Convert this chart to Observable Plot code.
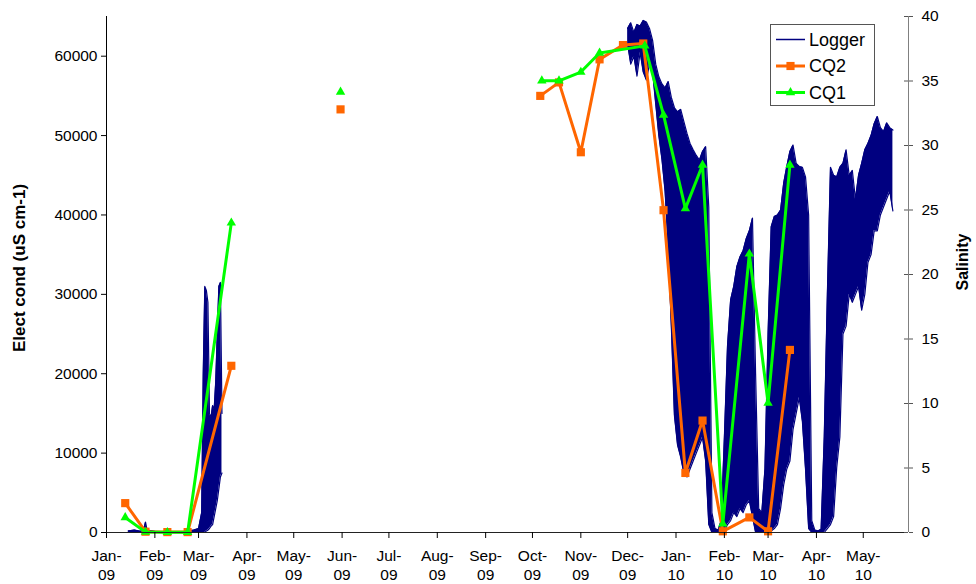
<!DOCTYPE html>
<html>
<head>
<meta charset="utf-8">
<script src="https://cdn.jsdelivr.net/npm/d3@7"></script>
<script src="https://cdn.jsdelivr.net/npm/@observablehq/plot@0.6"></script>
<style>
  html, body { margin: 0; padding: 0; background: #fff; }
  #chart { width: 976px; height: 584px; }
</style>
</head>
<body>
<div id="chart"></div>
<script>
// ---------- data ----------
const xDomain = ["2009-01-01", "2010-05-30"];
const monthTicks = ["2009-01-01","2009-02-01","2009-03-01","2009-04-01","2009-05-01","2009-06-01",
  "2009-07-01","2009-08-01","2009-09-01","2009-10-01","2009-11-01","2009-12-01",
  "2010-01-01","2010-02-01","2010-03-01","2010-04-01","2010-05-01"];
const monthLabels = ["Jan-\n09","Feb-\n09","Mar-\n09","Apr-\n09","May-\n09","Jun-\n09",
  "Jul-\n09","Aug-\n09","Sep-\n09","Oct-\n09","Nov-\n09","Dec-\n09",
  "Jan-\n10","Feb-\n10","Mar-\n10","Apr-\n10","May-\n10"];
const ecTicks = [0, 10000, 20000, 30000, 40000, 50000, 60000];
const salinityTicks = [0, 5, 10, 15, 20, 25, 30, 35, 40];
const ecTop = 65000;
const salinityTop = 40;
const seriesNames = ["Logger", "CQ2", "CQ1"];

// CQ2 (orange squares), EC in uS/cm; null = gap
const cq2Dates = ["2009-01-13","2009-01-26","2009-02-09","2009-02-22","2009-03-22","2009-04-20",
  "2009-05-31","2009-08-01",
  "2009-10-06","2009-10-18","2009-11-01","2009-11-13","2009-11-28","2009-12-11","2009-12-24",
  "2010-01-07","2010-01-18","2010-01-31","2010-02-17","2010-03-01","2010-03-15"];
const cq2Values = [3700, 100, 50, 50, 21000, null,
  53300, null,
  55000, 56700, 47900, 59600, 61400, 61600, 40600,
  7500, 14100, 150, 1900, 150, 23000];

// CQ1 (green triangles)
const cq1Dates = ["2009-01-13","2009-01-26","2009-02-09","2009-02-22","2009-03-22","2009-04-20",
  "2009-05-31","2009-08-01",
  "2009-10-07","2009-10-18","2009-11-01","2009-11-13","2009-12-12","2009-12-24",
  "2010-01-07","2010-01-18","2010-01-31","2010-02-17","2010-03-01","2010-03-15"];
const cq1Values = [1900, 50, 20, 20, 39000, null,
  55500, null,
  56900, 56900, 58000, 60400, 61300, 52600,
  40800, 46300, 1100, 35100, 16300, 46300];

// Logger: low / high envelope of the recorded conductivity
const loggerDates = [
  "2009-01-15","2009-01-19","2009-01-23","2009-01-25","2009-01-26","2009-01-27","2009-02-01",
  "2009-02-10","2009-02-20","2009-02-26","2009-03-01","2009-03-03","2009-03-04","2009-03-05",
  "2009-03-06","2009-03-07","2009-03-08","2009-03-09","2009-03-10","2009-03-11","2009-03-12",
  "2009-03-13","2009-03-14","2009-03-15","2009-03-16","2009-06-01",
  "2009-12-01","2009-12-03","2009-12-05","2009-12-07","2009-12-09","2009-12-11","2009-12-13",
  "2009-12-15","2009-12-17","2009-12-19","2009-12-21","2009-12-23","2009-12-25","2009-12-27",
  "2009-12-29","2009-12-31","2010-01-02","2010-01-04","2010-01-06","2010-01-08","2010-01-10",
  "2010-01-12","2010-01-14","2010-01-16","2010-01-18","2010-01-20","2010-01-22","2010-01-24",
  "2010-01-26","2010-01-28","2010-01-30","2010-02-01","2010-02-03","2010-02-05","2010-02-07",
  "2010-02-09","2010-02-11","2010-02-13","2010-02-15","2010-02-17","2010-02-19","2010-02-21",
  "2010-02-23","2010-02-25","2010-02-27","2010-03-01","2010-03-03","2010-03-05","2010-03-07",
  "2010-03-09","2010-03-11","2010-03-13","2010-03-15","2010-03-17","2010-03-19","2010-03-21",
  "2010-03-23","2010-03-25","2010-03-27","2010-03-29","2010-03-31","2010-04-02","2010-04-04",
  "2010-04-06","2010-04-08","2010-04-10","2010-04-12","2010-04-14","2010-04-16","2010-04-18",
  "2010-04-20","2010-04-22","2010-04-24","2010-04-26","2010-04-28","2010-04-30","2010-05-02",
  "2010-05-04","2010-05-06","2010-05-08","2010-05-10","2010-05-12","2010-05-14","2010-05-16",
  "2010-05-18","2010-05-20"];
const loggerLow = [
  0, 0, 0, 0, 0, 0, 0,
  0, 0, 0, 0, 0, 0, 0,
  200, 300, 500, 800, 1000, 2000, 3000,
  4000, 5500, 7000, 7500, null,
  61500, 59000, 60000, 57500, 60500, 58000, 57000,
  59000, 58000, 54000, 50000, 47000, 43000, 36000,
  26000, 14700, 11000, 9500, 7500, 7000, 8000,
  9000, 10000, 11000, 12000, 9000, 1000, 0,
  0, 0, 0, 200, 1000, 1500, 2500,
  2000, 3000, 2500, 3500, 4000, 2000, 0,
  0, 0, 0, 0, 200, 500, 1000,
  3000, 6000, 8000, 9000, 13000, 15000, 17000,
  14000, 8000, 500, 0, 0, 0, 0,
  0, 500, 1000, 2000, 8200, 12000, 25000,
  26000, 30000, 29000, 30000, 31000, 28000, 30000,
  34000, 35000, 38000, 38000, 40000, 41000, 42000,
  43000, 40500];
const loggerHigh = [
  200, 300, 150, 500, 1300, 300, 150,
  100, 100, 300, 500, 2500, 20000, 31000,
  30500, 29000, 15000, 14500, 16000, 15500, 19000,
  25000, 31000, 31500, 15000, null,
  63500, 64200, 63000, 64000, 63800, 64500, 64300,
  63500, 62000, 59000, 57400, 56500, 56000, 56800,
  54800, 53500, 53000, 53300, 51800, 50300, 49000,
  48200, 47500, 46900, 48000, 48600, 41000, 2500,
  500, 300, 1500, 12000, 23500, 29300, 31000,
  33500, 34700, 35500, 37000, 38000, 39600, 20000,
  3000, 2500, 8000, 25000, 38500, 39800, 40000,
  40600, 44000, 46100, 48000, 48800, 46500, 46100,
  46000, 44800, 40000, 1500, 300, 200, 400,
  12000, 30000, 46000, 45000, 44800, 46000, 46500,
  48200, 45000, 45600, 42000, 45000, 46500, 48200,
  49000, 50000, 51500, 52400, 51000, 50500, 51600,
  51000, 50700];

// ---------- build tables ----------
const parse = d3.utcParse("%Y-%m-%d");
const ecPerSalinity = ecTop / salinityTop;
const logger = loggerDates.map((d, i) => ({date: parse(d), low: loggerLow[i], high: loggerHigh[i]}));
const cq2 = cq2Dates.map((d, i) => ({date: parse(d), ec: cq2Values[i]}));
const cq1 = cq1Dates.map((d, i) => ({date: parse(d), ec: cq1Values[i]}));
const tickDates = monthTicks.map(parse);
const xStart = parse(xDomain[0]), xEnd = parse(xDomain[1]);

const FONT = "'Liberation Sans', Arial, Helvetica, sans-serif";
const NAVY = "#000080", ORANGE = "#FF6600", GREEN = "#00FF00";
const SQ_R = 4.6, TRI_R = 3.5;

const svg = Plot.plot({
  width: 976, height: 584,
  marginLeft: 106, marginRight: 68, marginTop: 16, marginBottom: 52,
  style: {fontFamily: FONT, fontSize: "15.5px", color: "#000", background: "#fff", overflow: "visible"},
  x: {type: "utc", domain: [xStart, xEnd], axis: null},
  y: {domain: [0, ecTop], axis: null},
  marks: [
    Plot.areaY(logger, {x: "date", y1: "low", y2: "high", fill: NAVY}),
    Plot.line(logger, {x: "date", y: "high", stroke: NAVY, strokeWidth: 1.2}),
    Plot.line(logger, {x: "date", y: "low", stroke: NAVY, strokeWidth: 1.2}),
    Plot.line(cq2, {x: "date", y: "ec", stroke: ORANGE, strokeWidth: 3}),
    Plot.dot(cq2, {x: "date", y: "ec", symbol: "square", fill: ORANGE, r: SQ_R}),
    Plot.line(cq1, {x: "date", y: "ec", stroke: GREEN, strokeWidth: 3}),
    Plot.dot(cq1, {x: "date", y: "ec", symbol: "triangle", fill: GREEN, r: TRI_R}),
    Plot.ruleX([xStart], {stroke: "#000"}),
    Plot.ruleY([0], {stroke: "#222"}),
    Plot.ruleX([xEnd], {stroke: "#808080"}),
    Plot.axisY({anchor: "left", ticks: ecTicks, tickSize: 5, tickPadding: 4,
      tickFormat: d => String(d), label: null, stroke: "#000"}),
    Plot.axisY({anchor: "right", ticks: salinityTicks.map(s => s * ecPerSalinity), tickSize: 4, tickPadding: 9,
      tickFormat: d => String(Math.round(d / ecPerSalinity)), label: null, stroke: "#555"}),
    Plot.ruleY(salinityTicks.map(s => s * ecPerSalinity), {x1: xEnd, x2: xEnd, insetLeft: -4, stroke: "#555"}),
    Plot.axisX({ticks: tickDates, tickSize: 6, tickPadding: 9, lineHeight: 1.22,
      tickFormat: d => monthLabels[tickDates.findIndex(t => +t === +d)], label: null, stroke: "#000"})
  ]
});

// ---------- axis titles & legend ----------
const s = d3.select(svg);
s.append("text")
  .attr("transform", "translate(19,268) rotate(-90)")
  .attr("dy", "0.36em")
  .attr("text-anchor", "middle")
  .style("font", `bold 17px ${FONT}`).attr("fill", "#000")
  .text("Elect cond (uS cm-1)");
s.append("text")
  .attr("transform", "translate(962,262) rotate(-90)")
  .attr("dy", "0.36em")
  .attr("text-anchor", "middle")
  .style("font", `bold 16px ${FONT}`).attr("fill", "#000")
  .text("Salinity");

const lg = s.append("g");
lg.append("rect").attr("x", 770.5).attr("y", 24.5).attr("width", 104).attr("height", 81)
  .attr("fill", "#fff").attr("stroke", "#555").attr("stroke-width", 1);
const rowY = [39.5, 66, 92.5];
const colors = [NAVY, ORANGE, GREEN];
seriesNames.forEach((name, i) => {
  const y = rowY[i];
  lg.append("line").attr("x1", 776).attr("x2", 805).attr("y1", y).attr("y2", y)
    .attr("stroke", colors[i]).attr("stroke-width", i === 0 ? 1.5 : 3);
  if (i === 1) {
    lg.append("path").attr("d", d3.symbol(d3.symbolSquare, Math.PI * SQ_R * SQ_R)())
      .attr("transform", `translate(790.5,${y})`).attr("fill", ORANGE);
  } else if (i === 2) {
    lg.append("path").attr("d", d3.symbol(d3.symbolTriangle, Math.PI * TRI_R * TRI_R)())
      .attr("transform", `translate(790.5,${y})`).attr("fill", GREEN);
  }
  lg.append("text").attr("x", 809).attr("y", y).attr("dy", "0.36em")
    .attr("text-anchor", "start")
    .style("font", `18px ${FONT}`).attr("fill", "#000").text(name);
});

document.getElementById("chart").appendChild(svg);
</script>
</body>
</html>
